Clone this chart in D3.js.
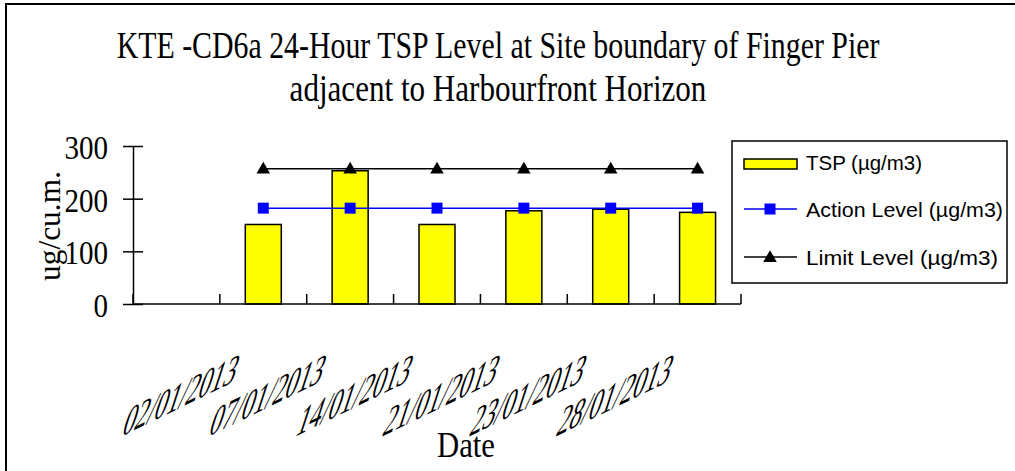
<!DOCTYPE html>
<html>
<head>
<meta charset="utf-8">
<script src="https://cdn.jsdelivr.net/npm/d3@7"></script>
<style>
  html, body { margin: 0; padding: 0; background: #fff; }
  svg { display: block; }
</style>
</head>
<body>
<div id="chart"></div>
<script>
// Data
const dateLabels = ["02/01/2013", "07/01/2013", "14/01/2013", "21/01/2013", "23/01/2013", "28/01/2013", ""];
const tspValues = [null, 151, 253, 151, 177, 180, 174];
const actionLevel = [null, 182, 182, 182, 182, 182, 182];
const limitLevel = [null, 257, 257, 257, 257, 257, 257];
const yTicks = [0, 100, 200, 300];
const titleLines = ["KTE -CD6a 24-Hour TSP Level at Site boundary of Finger Pier", "adjacent to Harbourfront Horizon"];
const legendLabels = ["TSP (\u00b5g/m3)", "Action Level (\u00b5g/m3)", "Limit Level (\u00b5g/m3)"];

// Layout
const W = 1015, H = 471;
const plot = { left: 133, right: 741, top: 146, bottom: 304 };
const serif = "'Liberation Serif', 'Times New Roman', serif";
const sans = "'Liberation Sans', Arial, sans-serif";

const svg = d3.select("#chart").append("svg")
    .attr("width", W)
    .attr("height", H);

svg.append("rect").attr("width", W).attr("height", H).attr("fill", "#fff");

// outer chart border (right / bottom edges fall outside the picture)
svg.append("rect")
    .attr("x", 6).attr("y", 4)
    .attr("width", W + 20).attr("height", H + 20)
    .attr("fill", "none")
    .attr("stroke", "#000")
    .attr("stroke-width", 2);

// Title: condensed serif, squeezed to the source widths
const titleWidths = [763, 417];
svg.selectAll(".title")
    .data(titleLines)
    .enter().append("text")
    .attr("class", "title")
    .attr("text-anchor", "middle")
    .attr("font-family", serif)
    .attr("font-size", 37)
    .text(d => d)
    .each(function(d, i) {
        const sx = titleWidths[i] / this.getComputedTextLength();
        d3.select(this).attr("transform", `translate(498,${58 + i * 43}) scale(${sx},1)`);
    });

// Scales
const idx = d3.range(dateLabels.length);
const x = d3.scaleBand()
    .domain(idx)
    .range([plot.left, plot.right])
    .paddingInner(0)
    .paddingOuter(0);

const barWidth = 36;

const y = d3.scaleLinear()
    .domain([0, 300])
    .range([plot.bottom, plot.top]);

// Bars
svg.append("g").selectAll("rect")
    .data(idx.filter(i => tspValues[i] != null))
    .enter().append("rect")
    .attr("x", i => x(i) + x.bandwidth() / 2 - barWidth / 2)
    .attr("y", i => y(tspValues[i]))
    .attr("width", barWidth)
    .attr("height", i => y(0) - y(tspValues[i]))
    .attr("fill", "#ffff00")
    .attr("stroke", "#000")
    .attr("stroke-width", 1.5);

// Y axis
const yAxis = svg.append("g")
    .attr("transform", `translate(${plot.left},0)`)
    .call(d3.axisLeft(y).tickValues(yTicks).tickSizeInner(10).tickSizeOuter(0).tickPadding(0));
yAxis.select(".domain").attr("stroke", "#000").attr("stroke-width", 1.5);
yAxis.selectAll(".tick line").attr("x1", 10).attr("x2", -10).attr("stroke", "#000").attr("stroke-width", 1.5);
yAxis.selectAll(".tick text")
    .attr("font-family", serif)
    .attr("font-size", 33)
    .attr("fill", "#000")
    .attr("x", -25 / 0.88)
    .attr("dy", "0.38em")
    .attr("transform", "scale(0.88,1)");

// X axis (ticks between categories, pointing up)
svg.append("line")
    .attr("x1", plot.left).attr("x2", plot.right)
    .attr("y1", y(0)).attr("y2", y(0))
    .attr("stroke", "#000").attr("stroke-width", 1.5);

svg.append("g").selectAll("line")
    .data(d3.range(dateLabels.length + 1))
    .enter().append("line")
    .attr("x1", i => plot.left + i * x.step())
    .attr("x2", i => plot.left + i * x.step())
    .attr("y1", y(0))
    .attr("y2", y(0) - 10)
    .attr("stroke", "#000")
    .attr("stroke-width", 1.5);

// X tick labels: rotated and sheared like the source picture
svg.append("g").selectAll("text")
    .data(idx.filter(i => dateLabels[i] !== ""))
    .enter().append("text")
    .attr("transform", i => `translate(${x(i) + x.bandwidth() / 2 + 5},395) matrix(1.236,-0.603,-0.711,2.187,0,0)`)
    .attr("text-anchor", "middle")
    .attr("y", 6.6)
    .attr("font-family", serif)
    .attr("font-size", 20)
    .text(i => dateLabels[i]);

// Axis titles
svg.append("text")
    .attr("x", 466).attr("y", 457)
    .attr("text-anchor", "middle")
    .attr("font-family", serif)
    .attr("font-size", 36)
    .attr("textLength", 58)
    .attr("lengthAdjust", "spacingAndGlyphs")
    .text("Date");

svg.append("text")
    .attr("transform", "translate(60,226) rotate(-90)")
    .attr("text-anchor", "middle")
    .attr("font-family", serif)
    .attr("font-size", 32)
    .attr("textLength", 110)
    .attr("lengthAdjust", "spacingAndGlyphs")
    .text("ug/cu.m.");

// Lines
const line = d3.line()
    .defined(d => d.v != null)
    .x(d => x(d.i) + x.bandwidth() / 2)
    .y(d => y(d.v));

const actionPts = idx.map(i => ({ i, v: actionLevel[i] }));
const limitPts = idx.map(i => ({ i, v: limitLevel[i] }));

svg.append("path")
    .datum(actionPts)
    .attr("d", line)
    .attr("fill", "none")
    .attr("stroke", "#0000ff")
    .attr("stroke-width", 1.5);

svg.append("path")
    .datum(limitPts)
    .attr("d", line)
    .attr("fill", "none")
    .attr("stroke", "#000")
    .attr("stroke-width", 1.5);

const sq = d3.symbol().type(d3.symbolSquare).size(121);
const tri = d3.symbol().type(d3.symbolTriangle).size(80);

svg.append("g").selectAll("path")
    .data(actionPts.filter(d => d.v != null))
    .enter().append("path")
    .attr("d", sq)
    .attr("transform", d => `translate(${x(d.i) + x.bandwidth() / 2},${y(d.v)})`)
    .attr("fill", "#0000ff");

svg.append("g").selectAll("path")
    .data(limitPts.filter(d => d.v != null))
    .enter().append("path")
    .attr("d", tri)
    .attr("transform", d => `translate(${x(d.i) + x.bandwidth() / 2},${y(d.v) + 1})`)
    .attr("fill", "#000");

// Legend
const legend = svg.append("g");
legend.append("rect")
    .attr("x", 732).attr("y", 141)
    .attr("width", 275).attr("height", 142)
    .attr("fill", "#fff")
    .attr("stroke", "#000")
    .attr("stroke-width", 1.5);

const legendY = [164, 209, 257];
const legendTextW = [116, 197, 192];

legend.append("rect")
    .attr("x", 744).attr("y", legendY[0] - 5)
    .attr("width", 53).attr("height", 10)
    .attr("fill", "#ffff00").attr("stroke", "#000").attr("stroke-width", 1.5);

legend.append("line")
    .attr("x1", 744).attr("x2", 797).attr("y1", legendY[1]).attr("y2", legendY[1])
    .attr("stroke", "#0000ff").attr("stroke-width", 1.5);
legend.append("path").attr("d", sq)
    .attr("transform", `translate(770,${legendY[1]})`).attr("fill", "#0000ff");

legend.append("line")
    .attr("x1", 744).attr("x2", 797).attr("y1", legendY[2]).attr("y2", legendY[2])
    .attr("stroke", "#000").attr("stroke-width", 1.5);
legend.append("path").attr("d", tri)
    .attr("transform", `translate(770,${legendY[2] + 1})`).attr("fill", "#000");

legend.selectAll(".ltext")
    .data(legendLabels)
    .enter().append("text")
    .attr("class", "ltext")
    .attr("x", 806)
    .attr("y", (d, i) => [170, 217, 265][i])
    .attr("font-family", sans)
    .attr("font-size", 21)
    .attr("textLength", (d, i) => legendTextW[i])
    .attr("lengthAdjust", "spacingAndGlyphs")
    .text(d => d);
</script>
</body>
</html>
